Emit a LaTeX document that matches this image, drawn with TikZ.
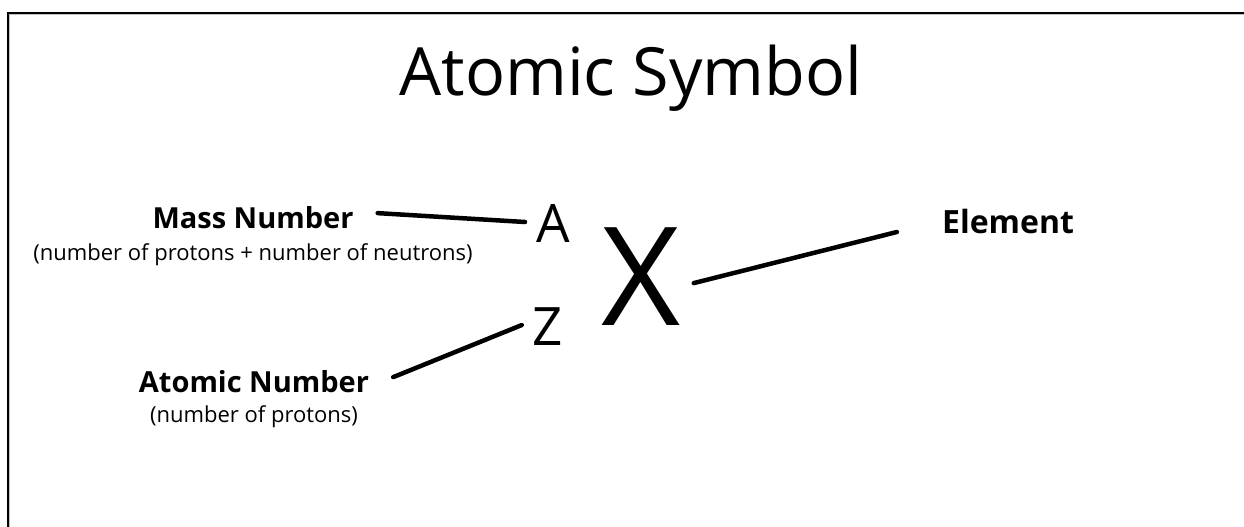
\documentclass[tikz,border=0pt]{standalone}
\usepackage{fontspec}
\setmainfont{Open Sans}
\usepackage{tikz}

\begin{document}
\begin{tikzpicture}[x=1pt,y=-1pt,
  heading/.style={anchor=base,inner sep=0pt,font=\fontsize{66.5}{80}\selectfont},
  label/.style={anchor=base,inner sep=0pt,font=\bfseries\fontsize{29}{34}\selectfont},
  note/.style={anchor=base,inner sep=0pt,font=\fontsize{22}{26}\selectfont},
  sym/.style={anchor=base,inner sep=0pt,font=\fontsize{53}{60}\selectfont},
  link/.style={line width=4.5pt,line cap=round}]
  \useasboundingbox (0,0) rectangle (1244,527);
  \fill[white] (0,0) rectangle (1244,527);
  \draw[gray!50,line width=1.2pt] (9.8,527) -- (9.8,14.8) -- (1244,14.8);
  \draw[line width=2.4pt] (8,527) -- (8,13) -- (1244,13);

  \node[heading] (title) at (631,95) {Atomic Symbol};

  \node[label] (massnum) at (253,228) {Mass Number};
  \node[note] (massnote) at (253,260) {(number of protons + number of neutrons)};
  \node[label] (atomnum) at (254,392) {Atomic Number};
  \node[note] (atomnote) at (254,422) {(number of protons)};

  \node[sym] (symA) at (553,242) {A};
  \node[sym] (symZ) at (548,345) {Z};
  \node[sym,font=\fontsize{137}{140}\selectfont] (symX) at (641,325) {X};
  \node[label,font=\bfseries\fontsize{32}{38}\selectfont] (element) at (1008,233) {Element};

  \draw[link] ([xshift=24pt,yshift=4pt]massnum.east) -- ([xshift=-11pt,yshift=1pt]symA.west);
  \draw[link] ([xshift=24pt,yshift=4pt]atomnum.east) -- ([xshift=-11pt,yshift=1pt]symZ.west);
  \draw[link] ([xshift=13pt,yshift=-7pt]symX.east) -- ([xshift=-45pt,yshift=-11pt]element.west);
\end{tikzpicture}
\end{document}
